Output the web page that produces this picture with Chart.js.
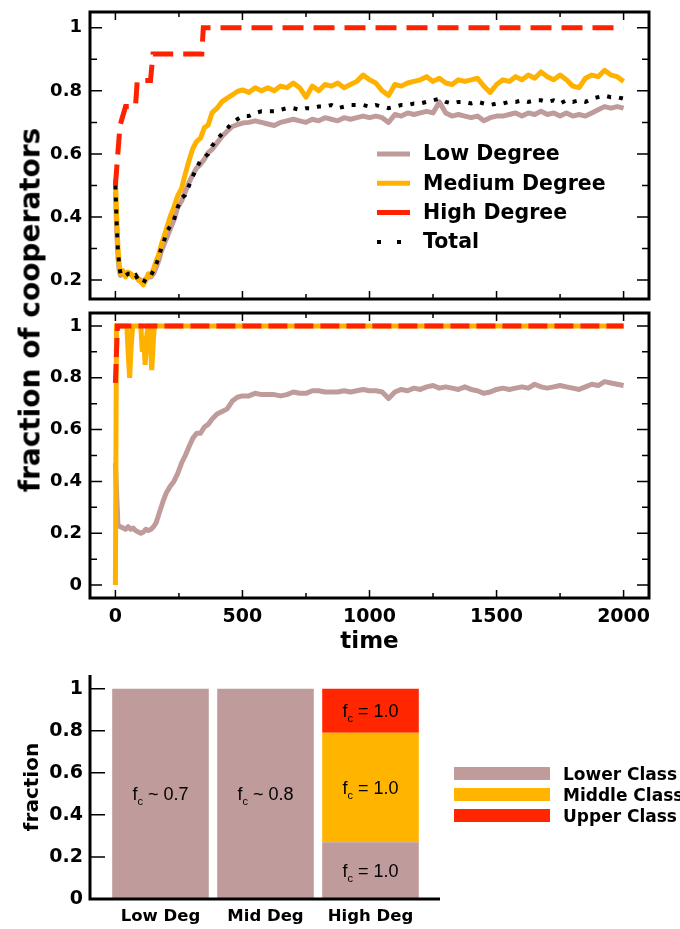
<!DOCTYPE html>
<html>
<head>
<meta charset="utf-8">
<script src="https://cdn.jsdelivr.net/npm/chart.js@4/dist/chart.umd.min.js"></script>
<style>
  body { margin: 0; background: #fff; width: 680px; height: 929px; position: relative; overflow: hidden; }
  canvas { position: absolute; left: 0; }
  #yTitle {
    position: absolute; left: 30px; top: 310px;
    transform: translate(-50%, -50%) rotate(-90deg);
    font: bold 28px "DejaVu Sans"; white-space: nowrap; color: #000;
  }
</style>
</head>
<body>
<canvas id="degChart" width="680" height="305" style="top:0"></canvas>
<canvas id="classChart" width="680" height="355" style="top:305px"></canvas>
<canvas id="barChart" width="680" height="269" style="top:660px"></canvas>
<div id="yTitle">fraction of cooperators</div>

<script>
// Colours
const ROSY = '#bf9b9b';
const ORANGE = '#ffb100';
const RED = '#ff2200';

// ---- Top panel: cooperators by degree ----
const timeDeg = [0, 5, 10, 15, 20,
  30, 40, 50, 60, 70, 80, 90, 100, 110, 120, 130, 140, 150, 160, 170, 180, 190, 200,
  215, 230, 245, 260, 275, 290, 305, 320, 335, 350, 365, 380,
  400, 420, 440, 460, 480, 500,
  525, 550, 575, 600, 625, 650, 675, 700, 725, 750, 775, 800, 825, 850, 875, 900, 925, 950, 975, 1000,
  1025, 1050, 1075, 1100, 1125, 1150, 1175, 1200, 1225, 1250, 1275, 1300, 1325, 1350, 1375, 1400, 1425, 1450, 1475, 1500,
  1525, 1550, 1575, 1600, 1625, 1650, 1675, 1700, 1725, 1750, 1775, 1800, 1825, 1850, 1875, 1900, 1925, 1950, 1975, 2000];

const lowDeg = [0.48, 0.36, 0.27, 0.23, 0.215,
  0.22, 0.215, 0.22, 0.22, 0.21, 0.215, 0.205, 0.20, 0.195, 0.205, 0.21, 0.21, 0.22, 0.24, 0.26, 0.29, 0.31, 0.33,
  0.36, 0.39, 0.43, 0.45, 0.48, 0.51, 0.535, 0.556, 0.567, 0.583, 0.604, 0.614,
  0.635, 0.656, 0.672, 0.687, 0.693, 0.698,
  0.70, 0.705, 0.70, 0.695, 0.69, 0.70, 0.705, 0.71, 0.705, 0.70, 0.71, 0.705, 0.715, 0.71, 0.705, 0.715, 0.71, 0.715, 0.72, 0.715,
  0.72, 0.715, 0.70, 0.725, 0.72, 0.73, 0.725, 0.73, 0.735, 0.73, 0.765, 0.73, 0.72, 0.725, 0.72, 0.715, 0.72, 0.705, 0.715, 0.72,
  0.72, 0.725, 0.73, 0.72, 0.73, 0.725, 0.735, 0.725, 0.73, 0.72, 0.73, 0.72, 0.725, 0.72, 0.73, 0.74, 0.75, 0.745, 0.75, 0.745];

const medDeg = [0.52, 0.40, 0.30, 0.25, 0.22,
  0.23, 0.21, 0.225, 0.22, 0.21, 0.215, 0.20, 0.195, 0.185, 0.20, 0.22, 0.215, 0.235, 0.26, 0.28, 0.31, 0.335, 0.36,
  0.40, 0.43, 0.467, 0.49, 0.536, 0.58, 0.618, 0.64, 0.65, 0.683, 0.692, 0.73,
  0.745, 0.766, 0.777, 0.787, 0.798, 0.803,
  0.795, 0.81, 0.80, 0.81, 0.80, 0.815, 0.81, 0.825, 0.81, 0.78, 0.815, 0.80, 0.82, 0.815, 0.825, 0.81, 0.82, 0.83, 0.85, 0.835,
  0.825, 0.80, 0.785, 0.82, 0.815, 0.825, 0.83, 0.835, 0.845, 0.83, 0.84, 0.825, 0.82, 0.835, 0.83, 0.835, 0.84, 0.815, 0.795, 0.82,
  0.835, 0.83, 0.845, 0.835, 0.85, 0.84, 0.86, 0.845, 0.835, 0.85, 0.835, 0.815, 0.81, 0.84, 0.85, 0.845, 0.865, 0.85, 0.845, 0.83];

const totalDeg = [0.50, 0.38, 0.29, 0.25, 0.22,
  0.225, 0.215, 0.22, 0.22, 0.21, 0.215, 0.20, 0.195, 0.19, 0.205, 0.215, 0.215, 0.23, 0.25, 0.27, 0.30, 0.32, 0.35,
  0.37, 0.39, 0.43, 0.46, 0.47, 0.50, 0.53, 0.555, 0.58, 0.59, 0.60, 0.625,
  0.645, 0.665, 0.68, 0.70, 0.71, 0.72,
  0.72, 0.73, 0.735, 0.735, 0.735, 0.74, 0.745, 0.745, 0.74, 0.745, 0.745, 0.75, 0.75, 0.755, 0.745, 0.75, 0.755, 0.755, 0.755, 0.75,
  0.755, 0.75, 0.745, 0.75, 0.755, 0.755, 0.76, 0.76, 0.765, 0.77, 0.775, 0.765, 0.76, 0.765, 0.765, 0.76, 0.765, 0.76, 0.755, 0.76,
  0.76, 0.765, 0.765, 0.77, 0.765, 0.77, 0.77, 0.765, 0.77, 0.76, 0.77, 0.765, 0.77, 0.765, 0.775, 0.78, 0.785, 0.78, 0.78, 0.775];

const highT = [0, 18, 40, 79, 86, 138, 148, 340, 346, 2000];
const highDeg = [0.5, 0.69, 0.75, 0.75, 0.833, 0.833, 0.917, 0.917, 1.0, 1.0];

// ---- Middle panel: cooperators by class ----
const timeCls = [0, 5, 10,
  20, 30, 40, 50, 60, 70, 80, 90, 100, 110, 120, 130, 140, 150, 160, 170, 180, 190, 200,
  215, 230, 245, 260, 275, 290, 305, 320, 335, 350, 365, 380,
  400, 420, 440, 460, 480, 500,
  525, 550, 575, 600, 625, 650, 675, 700, 725, 750, 775, 800, 825, 850, 875, 900, 925, 950, 975, 1000,
  1025, 1050, 1075, 1100, 1125, 1150, 1175, 1200, 1225, 1250, 1275, 1300, 1325, 1350, 1375, 1400, 1425, 1450, 1475, 1500,
  1525, 1550, 1575, 1600, 1625, 1650, 1675, 1700, 1725, 1750, 1775, 1800, 1825, 1850, 1875, 1900, 1925, 1950, 1975, 2000];

const lowerCls = [0.47, 0.35, 0.23,
  0.225, 0.22, 0.215, 0.225, 0.215, 0.22, 0.21, 0.205, 0.20, 0.205, 0.215, 0.21, 0.215, 0.225, 0.24, 0.27, 0.30, 0.33, 0.355,
  0.38, 0.40, 0.43, 0.47, 0.50, 0.535, 0.567, 0.586, 0.586, 0.61, 0.62, 0.64,
  0.66, 0.67, 0.68, 0.71, 0.725, 0.73,
  0.73, 0.74, 0.735, 0.735, 0.735, 0.73, 0.735, 0.745, 0.74, 0.74, 0.75, 0.75, 0.745, 0.745, 0.745, 0.75, 0.745, 0.75, 0.755, 0.75,
  0.75, 0.745, 0.72, 0.745, 0.755, 0.75, 0.76, 0.755, 0.765, 0.77, 0.76, 0.765, 0.76, 0.755, 0.765, 0.755, 0.75, 0.74, 0.745, 0.755,
  0.76, 0.755, 0.76, 0.765, 0.76, 0.775, 0.765, 0.76, 0.765, 0.77, 0.765, 0.76, 0.755, 0.765, 0.775, 0.77, 0.785, 0.78, 0.775, 0.77];

const midT = [0, 4, 45, 50, 56, 62, 68, 100, 106, 111, 117, 122, 128, 134, 139, 143, 148, 153, 2000];
const midCls = [0, 1, 1, 0.9, 0.8, 0.92, 1, 1, 0.9, 0.96, 0.85, 0.95, 1, 1, 0.9, 0.83, 0.92, 1, 1];

const upT = [0, 8, 2000];
const upCls = [0.78, 1, 1];

// Axis ticks for the two time panels
const timeMajor = [0, 500, 1000, 1500, 2000];
const timeMinor = [250, 750, 1250, 1750];
const degYMajor = [0.2, 0.4, 0.6, 0.8, 1];
const degYMinor = [0.3, 0.5, 0.7, 0.9];
const clsYMajor = [0, 0.2, 0.4, 0.6, 0.8, 1];
const clsYMinor = [0.1, 0.3, 0.5, 0.7, 0.9];

// ---- Bottom panel: class composition per degree group ----
const degGroups = ['Low Deg', 'Mid Deg', 'High Deg'];
const lowerShare = [1.0, 1.0, 0.27];
const middleShare = [0, 0, 0.52];
const upperShare = [0, 0, 0.21];
const lowerNote = ['~ 0.7', '~ 0.8', '= 1.0'];
const middleNote = ['', '', '= 1.0'];
const upperNote = ['', '', '= 1.0'];
const barYTicks = [0, 0.2, 0.4, 0.6, 0.8, 1];

Chart.defaults.font.family = '"DejaVu Sans"';
Chart.defaults.color = '#000';

const pts = (xs, ys) => xs.map((x, i) => ({ x, y: ys[i] }));

// fixed axis sizes, no extra label padding so the plot boxes land where we want
const fixWidth = w => s => { s.width = w; s.paddingTop = 0; s.paddingBottom = 0; };
const fixHeight = h => s => { s.height = h; s.paddingLeft = 0; s.paddingRight = 0; };

// box with inward ticks on all four sides
const framePlugin = {
  id: 'frame',
  afterDatasetsDraw(chart, args, opts) {
    if (!opts.show) return;
    const { ctx, chartArea: a, scales: { x, y } } = chart;
    ctx.save();
    ctx.strokeStyle = '#000';
    ctx.lineWidth = 1.5;
    ctx.beginPath();
    const xt = (vals, len) => vals.forEach(v => {
      const p = x.getPixelForValue(v);
      ctx.moveTo(p, a.bottom); ctx.lineTo(p, a.bottom - len);
      ctx.moveTo(p, a.top); ctx.lineTo(p, a.top + len);
    });
    const yt = (vals, len) => vals.forEach(v => {
      const p = y.getPixelForValue(v);
      ctx.moveTo(a.left, p); ctx.lineTo(a.left + len, p);
      ctx.moveTo(a.right, p); ctx.lineTo(a.right - len, p);
    });
    xt(opts.xMajor, 8); xt(opts.xMinor, 5);
    yt(opts.yMajor, 12); yt(opts.yMinor, 7);
    ctx.stroke();
    ctx.lineWidth = 3;
    ctx.strokeRect(a.left, a.top, a.width, a.height);
    ctx.restore();
  }
};

// legend drawn inside the plot
const lineLegend = {
  id: 'lineLegend',
  afterDraw(chart, args, opts) {
    if (!opts.show) return;
    const ctx = chart.ctx;
    ctx.save();
    chart.data.datasets.forEach((ds, i) => {
      const cy = opts.y + i * opts.step;
      ctx.beginPath();
      ctx.strokeStyle = ds.borderColor;
      ctx.lineWidth = ds.borderWidth;
      ctx.lineCap = 'butt';
      ctx.setLineDash(ds.legendDash || ds.borderDash || []);
      ctx.moveTo(opts.x, cy);
      ctx.lineTo(opts.x + opts.len, cy);
      ctx.stroke();
      ctx.setLineDash([]);
      ctx.fillStyle = '#000';
      ctx.font = opts.font;
      ctx.textBaseline = 'middle';
      ctx.fillText(ds.label, opts.textX, cy + 1);
    });
    ctx.restore();
  }
};

// axes, f_c notes inside bars and box legend for the bar panel
const barNotes = {
  id: 'barNotes',
  afterDatasetsDraw(chart, args, opts) {
    if (!opts.show) return;
    const ctx = chart.ctx;
    const { chartArea: a, scales: { y } } = chart;
    const big = '18px "Liberation Sans"';
    const small = '11px "Liberation Sans"';
    ctx.save();
    ctx.fillStyle = '#000';
    ctx.textBaseline = 'alphabetic';
    chart.data.datasets.forEach((ds, di) => {
      const meta = chart.getDatasetMeta(di);
      meta.data.forEach((bar, i) => {
        const note = ds.notes[i];
        if (!note) return;
        const cy = (bar.y + bar.base) / 2 + 6;
        ctx.font = big;
        const wf = ctx.measureText('f').width;
        const rest = ' ' + note;
        const wr = ctx.measureText(rest).width;
        ctx.font = small;
        const wc = ctx.measureText('c').width;
        const x0 = bar.x - (wf + wc + wr) / 2;
        ctx.font = big;
        ctx.fillText('f', x0, cy);
        ctx.font = small;
        ctx.fillText('c', x0 + wf, cy + 5);
        ctx.font = big;
        ctx.fillText(rest, x0 + wf + wc, cy);
      });
    });
    // axis lines sit a little outside the bar area
    const ax = a.left - opts.gapLeft;
    ctx.strokeStyle = '#000';
    ctx.lineWidth = 3;
    ctx.beginPath();
    ctx.moveTo(ax, a.top);
    ctx.lineTo(ax, a.bottom);
    ctx.lineTo(a.right + opts.gapRight, a.bottom);
    ctx.stroke();
    ctx.lineWidth = 1.5;
    ctx.beginPath();
    opts.yTicks.forEach(v => {
      const p = y.getPixelForValue(v);
      ctx.moveTo(ax, p); ctx.lineTo(ax + 15, p);
    });
    ctx.stroke();
    // legend boxes
    chart.data.datasets.forEach((ds, i) => {
      const top = opts.legY + i * opts.legStep;
      ctx.fillStyle = ds.backgroundColor;
      ctx.fillRect(opts.legX, top, opts.boxW, opts.boxH);
      ctx.fillStyle = '#000';
      ctx.font = 'bold 17px "DejaVu Sans"';
      ctx.fillText(ds.label, opts.legTextX, top + opts.boxH);
    });
    ctx.restore();
  }
};

Chart.register(framePlugin, lineLegend, barNotes);

const tickFont = { size: 18, weight: 'bold' };

// Top: by degree
new Chart(document.getElementById('degChart'), {
  type: 'line',
  data: {
    datasets: [
      { label: 'Low Degree', data: pts(timeDeg, lowDeg), borderColor: ROSY, borderWidth: 5, borderJoinStyle: 'round', order: 3 },
      { label: 'Medium Degree', data: pts(timeDeg, medDeg), borderColor: ORANGE, borderWidth: 5, borderJoinStyle: 'round', order: 2 },
      { label: 'High Degree', data: pts(highT, highDeg), borderColor: RED, borderWidth: 5, borderDash: [21, 10], legendDash: [], order: 1 },
      { label: 'Total', data: pts(timeDeg, totalDeg), borderColor: '#000', borderWidth: 4, borderDash: [4, 8], legendDash: [4, 16], order: 0 }
    ]
  },
  options: {
    responsive: false,
    animation: false,
    devicePixelRatio: 1,
    layout: { padding: { top: 12, right: 31, bottom: 6, left: 0 } },
    elements: { point: { radius: 0 }, line: { tension: 0, fill: false } },
    plugins: {
      legend: { display: false },
      tooltip: { enabled: false },
      frame: { show: true, xMajor: timeMajor, xMinor: timeMinor, yMajor: degYMajor, yMinor: degYMinor },
      lineLegend: { show: true, x: 377, y: 154, step: 29.3, len: 33, textX: 423, font: 'bold 20.5px "DejaVu Sans"' }
    },
    scales: {
      x: { type: 'linear', min: -100, max: 2100, display: false },
      y: {
        min: 0.14, max: 1.05,
        afterFit: fixWidth(90),
        afterBuildTicks: s => { s.ticks = degYMajor.map(v => ({ value: v })); },
        grid: { display: false, drawTicks: false },
        border: { display: false },
        ticks: { padding: 8, font: tickFont, callback: v => String(v) }
      }
    }
  }
});

// Middle: by class
new Chart(document.getElementById('classChart'), {
  type: 'line',
  data: {
    datasets: [
      { label: 'Lower Class', data: pts(timeCls, lowerCls), borderColor: ROSY, borderWidth: 5, borderJoinStyle: 'round', order: 2 },
      { label: 'Middle Class', data: pts(midT, midCls), borderColor: ORANGE, borderWidth: 5, order: 1 },
      { label: 'Upper Class', data: pts(upT, upCls), borderColor: RED, borderWidth: 5, borderDash: [19, 7], legendDash: [23, 20], order: 0 }
    ]
  },
  options: {
    responsive: false,
    animation: false,
    devicePixelRatio: 1,
    layout: { padding: { top: 8, right: 31, bottom: 0, left: 0 } },
    elements: { point: { radius: 0 }, line: { tension: 0, fill: false } },
    plugins: {
      legend: { display: false },
      tooltip: { enabled: false },
      frame: { show: true, xMajor: timeMajor, xMinor: timeMinor, yMajor: clsYMajor, yMinor: clsYMinor },
      lineLegend: { show: true, x: 377, y: 463, step: 26, len: 33, textX: 423, font: 'bold 21px "DejaVu Sans"' }
    },
    scales: {
      x: {
        type: 'linear', min: -100, max: 2100,
        afterFit: fixHeight(62),
        afterBuildTicks: s => { s.ticks = timeMajor.map(v => ({ value: v })); },
        grid: { display: false, drawTicks: false },
        border: { display: false },
        ticks: { padding: 8, font: { size: 19, weight: 'bold' }, maxRotation: 0, autoSkip: false, callback: v => String(v) },
        title: { display: true, text: 'time', font: { size: 23, weight: 'bold' }, padding: { top: 0, bottom: 4 } }
      },
      y: {
        min: -0.05, max: 1.05,
        afterFit: fixWidth(90),
        afterBuildTicks: s => { s.ticks = clsYMajor.map(v => ({ value: v })); },
        grid: { display: false, drawTicks: false },
        border: { display: false },
        ticks: { padding: 8, font: tickFont, callback: v => String(v) }
      }
    }
  }
});

// Bottom: stacked class shares
new Chart(document.getElementById('barChart'), {
  type: 'bar',
  data: {
    labels: degGroups,
    datasets: [
      { label: 'Lower Class', data: lowerShare, backgroundColor: ROSY, notes: lowerNote },
      { label: 'Middle Class', data: middleShare, backgroundColor: '#ffb400', notes: middleNote },
      { label: 'Upper Class', data: upperShare, backgroundColor: '#ff2600', notes: upperNote }
    ]
  },
  options: {
    responsive: false,
    animation: false,
    devicePixelRatio: 1,
    layout: { padding: { top: 15, right: 257, bottom: 0, left: 0 } },
    datasets: { bar: { barPercentage: 0.92, categoryPercentage: 1, borderWidth: 0 } },
    plugins: {
      legend: { display: false },
      tooltip: { enabled: false },
      barNotes: {
        show: true, yTicks: [0.2, 0.4, 0.6, 0.8, 1], gapLeft: 18, gapRight: 17,
        legX: 454, legY: 107, legStep: 21, boxW: 96, boxH: 13, legTextX: 563
      }
    },
    scales: {
      x: {
        type: 'category', offset: true, stacked: true,
        afterFit: fixHeight(30),
        grid: { display: false, drawTicks: false },
        border: { display: false },
        ticks: { padding: 8, font: { size: 16.5, weight: 'bold' }, maxRotation: 0, autoSkip: false }
      },
      y: {
        min: 0, max: 1.065, stacked: true,
        afterFit: fixWidth(108),
        afterBuildTicks: s => { s.ticks = barYTicks.map(v => ({ value: v })); },
        grid: { display: false, drawTicks: false },
        border: { display: false },
        ticks: { padding: 25, font: { size: 19, weight: 'bold' }, callback: v => String(v) },
        title: { display: true, text: 'fraction', font: { size: 20, weight: 'bold' }, padding: { top: 21, bottom: 0 } }
      }
    }
  }
});
</script>
</body>
</html>
